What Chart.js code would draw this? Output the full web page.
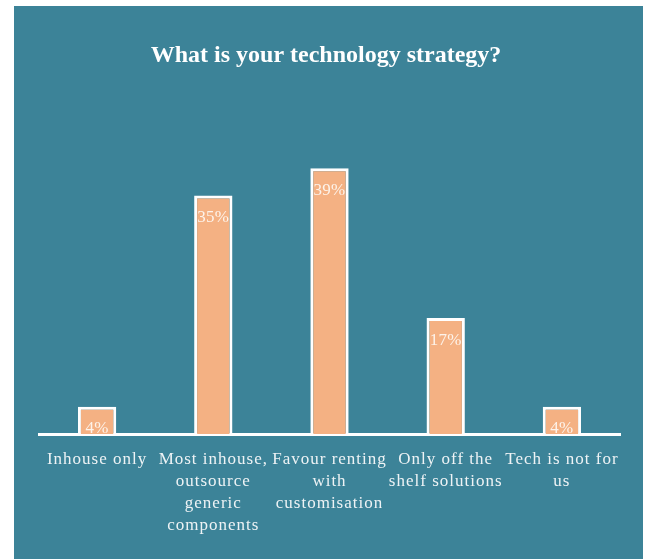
<!DOCTYPE html>
<html>
<head>
<meta charset="utf-8">
<script src="https://cdn.jsdelivr.net/npm/chart.js@4/dist/chart.umd.min.js"></script>
<style>
  html, body { margin: 0; padding: 0; background: #ffffff; }
  #wrap { width: 648px; height: 559px; position: relative; }
</style>
</head>
<body>
<div id="wrap"><canvas id="c" width="648" height="559"></canvas></div>
<script>
// Survey answers and their shares (percent)
const categories = [
  ['Inhouse only'],
  ['Most inhouse,', 'outsource', 'generic', 'components'],
  ['Favour renting', 'with', 'customisation'],
  ['Only off the', 'shelf solutions'],
  ['Tech is not for', 'us']
];
const shares = [4, 35, 39, 17, 4];
const valueLabels = ['4%', '35%', '39%', '17%', '4%'];
const chartTitle = 'What is your technology strategy?';

const TEAL = '#3c8398';
const PEACH = '#f4b183';
const SERIF = '"Liberation Serif", "DejaVu Serif", serif';

// Teal panel behind everything, plus the heading
const panelPlugin = {
  id: 'panel',
  beforeDraw(chart) {
    const ctx = chart.ctx;
    ctx.save();
    ctx.fillStyle = '#ffffff';
    ctx.fillRect(0, 0, chart.width, chart.height);
    ctx.fillStyle = TEAL;
    ctx.fillRect(14, 6, 629, 553);
    ctx.letterSpacing = '0px';
    ctx.fillStyle = '#ffffff';
    ctx.font = 'bold 24px ' + SERIF;
    ctx.textAlign = 'center';
    ctx.textBaseline = 'alphabetic';
    ctx.fillText(chartTitle, 326, 62);
    ctx.restore();
    // wider tracking for the category captions
    ctx.letterSpacing = '1px';
  }
};

// Percent captions just inside the top of each bar
const valueLabelPlugin = {
  id: 'valueLabels',
  afterDatasetsDraw(chart) {
    const ctx = chart.ctx;
    const meta = chart.getDatasetMeta(0);
    ctx.save();
    ctx.letterSpacing = '0.3px';
    ctx.fillStyle = '#fdf3ea';
    ctx.font = '17px ' + SERIF;
    ctx.textAlign = 'center';
    ctx.textBaseline = 'middle';
    meta.data.forEach((bar, i) => {
      ctx.fillText(valueLabels[i], bar.x, bar.y + 22);
    });
    ctx.restore();
  }
};

new Chart(document.getElementById('c'), {
  type: 'bar',
  data: {
    labels: categories,
    datasets: [{
      data: shares,
      backgroundColor: PEACH,
      borderColor: '#ffffff',
      borderWidth: 3,
      borderSkipped: 'bottom',
      categoryPercentage: 1,
      barPercentage: 0.33
    }]
  },
  options: {
    responsive: false,
    animation: false,
    devicePixelRatio: 1,
    layout: { padding: { left: 39, right: 28, top: 100, bottom: 0 } },
    plugins: {
      legend: { display: false },
      title: { display: false },
      tooltip: { enabled: false }
    },
    scales: {
      x: {
        grid: { display: false, drawTicks: false },
        border: { display: true, color: '#ffffff', width: 3 },
        ticks: {
          color: '#eef3f5',
          font: { family: SERIF, size: 17, lineHeight: 1.3 },
          padding: 14,
          maxRotation: 0,
          minRotation: 0,
          autoSkip: false
        },
        afterFit(scale) {
          scale.height = 125;
          scale.paddingLeft = 0;
          scale.paddingRight = 0;
        }
      },
      y: {
        display: false,
        min: 0,
        max: 49
      }
    }
  },
  plugins: [panelPlugin, valueLabelPlugin]
});
</script>
</body>
</html>
